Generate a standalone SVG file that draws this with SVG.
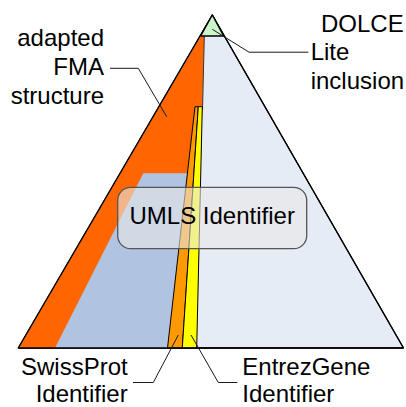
<svg xmlns="http://www.w3.org/2000/svg" width="406" height="407" viewBox="0 0 406 407">
<style>
  .lbl{font-family:"Liberation Sans",Arial,sans-serif;font-size:24px;fill:#000}
  .edge{stroke:#000;stroke-width:1.3;stroke-linejoin:round}
  .lead{fill:none;stroke:#1a1a1a;stroke-width:1}
</style>
<rect width="406" height="407" fill="#fff"/>
<g id="pyramid">
  <polygon class="edge" points="212.3,15 18.3,348 403.5,348" fill="#E6ECF6"/>
</g>
<g id="fma">
  <polygon points="200.7,36 204.3,36 196,348 18.3,348" fill="#FF6600"/>
  <line x1="204.3" y1="36" x2="202.5" y2="110" stroke="#333" stroke-width="1"/>
</g>
<g id="blue-region">
  <polygon points="143.3,173.3 193,173.3 186,348 55,348" fill="#B0C4E2"/>
</g>
<g id="swissprot">
  <polygon points="195,106.7 198.3,106.7 182.3,348 167.5,348" fill="#FF9900" stroke="#000" stroke-width="1"/>
</g>
<g id="entrezgene">
  <polygon points="198.3,106.7 202.3,106.7 196.7,348 182.3,348" fill="#FFFF00" stroke="#000" stroke-width="1"/>
</g>
<g id="base">
  <polyline class="edge" points="18.3,348 403.5,348" fill="none"/>
  <polyline class="edge" points="18.3,348 212.3,15 403.5,348" fill="none"/>
</g>
<g id="dolce">
  <polygon class="edge" points="212.3,15 200.7,36 223.6,36" fill="#CCF5CC"/>
</g>
<g id="connectors">
  <polyline class="lead" points="110,68.3 138.3,68.3 166.7,116.7"/>
  <polyline class="lead" points="212.3,29.3 249,52.2 308.3,52.2"/>
  <polyline class="lead" points="178.3,335 153.3,382.5 133,382.5"/>
  <polyline class="lead" points="191,335 218.3,382.5 237.3,382.5"/>
</g>
<g id="umls">
  <rect x="117.7" y="187.3" width="189" height="61.4" rx="13" ry="13" fill="#E8E8E8" fill-opacity="0.6" stroke="#555" stroke-width="1.3"/>
  <text class="lbl" x="212.2" y="224" text-anchor="middle">UMLS Identifier</text>
</g>
<g id="labels">
  <text class="lbl" x="104" y="45.5" text-anchor="end">adapted</text>
  <text class="lbl" x="104" y="75" text-anchor="end">FMA</text>
  <text class="lbl" x="104" y="104" text-anchor="end">structure</text>
  <text class="lbl" x="321" y="31.7">DOLCE</text>
  <text class="lbl" x="310.7" y="59.5">Lite</text>
  <text class="lbl" x="310.7" y="89.3">inclusion</text>
  <text class="lbl" x="127.7" y="375" text-anchor="end">SwissProt</text>
  <text class="lbl" x="127.7" y="401.7" text-anchor="end">Identifier</text>
  <text class="lbl" x="242.3" y="375">EntrezGene</text>
  <text class="lbl" x="242.3" y="401.7">Identifier</text>
</g>
</svg>
